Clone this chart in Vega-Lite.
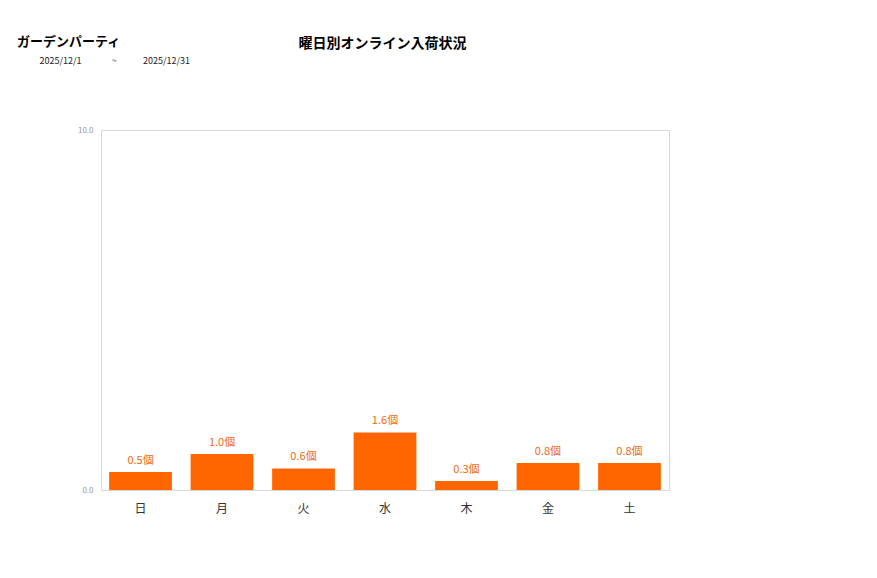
{
  "$schema": "https://vega.github.io/schema/vega-lite/v6.json",
  "autosize": "none",
  "width": 568,
  "height": 360,
  "padding": {"left": 101, "top": 130, "right": 208, "bottom": 88},
  "background": "white",
  "title": {
    "text": "ガーデンパーティ",
    "subtitle": "\u200b\u3000\u3000\u20022025/12/1\u00a0\u00a0\u00a0\u00a0\u00a0\u00a0\u00a0\u00a0\u00a0\u00a0\u00a0\u00a0\u00a0\u00a0\u00a0~\u00a0\u00a0\u00a0\u00a0\u00a0\u00a0\u00a0\u00a0\u00a0\u00a0\u00a0\u00a0\u00a02025/12/31",
    "anchor": "start",
    "frame": "group",
    "dx": -84,
    "offset": -30,
    "font": "Noto Sans CJK JP",
    "fontSize": 13,
    "fontWeight": "bold",
    "color": "#000000",
    "subtitleFont": "Noto Sans CJK JP",
    "subtitleFontSize": 9,
    "subtitleColor": "#222222",
    "subtitlePadding": 8
  },
  "config": {
    "view": {"stroke": "#d9d9d9", "strokeWidth": 1},
    "font": "Noto Sans CJK JP"
  },
  "data": {
    "values": [
      {"曜日": "日", "入荷": 0.5},
      {"曜日": "月", "入荷": 1.0},
      {"曜日": "火", "入荷": 0.6},
      {"曜日": "水", "入荷": 1.6},
      {"曜日": "木", "入荷": 0.25},
      {"曜日": "金", "入荷": 0.75},
      {"曜日": "土", "入荷": 0.75}
    ]
  },
  "transform": [
    {"calculate": "format(datum['入荷'], '.1f') + '個'", "as": "ラベル"}
  ],
  "encoding": {
    "x": {
      "field": "曜日",
      "type": "nominal",
      "sort": null,
      "scale": {"paddingInner": 0.23, "paddingOuter": 0.1},
      "axis": {
        "title": null,
        "labelAngle": 0,
        "labelFontSize": 12,
        "labelColor": "#333333",
        "labelPadding": 13,
        "ticks": false,
        "domain": false
      }
    },
    "y": {
      "field": "入荷",
      "type": "quantitative",
      "scale": {"domain": [0, 10], "nice": false},
      "axis": {
        "values": [0, 10],
        "format": ".1f",
        "grid": false,
        "ticks": false,
        "domain": false,
        "labelFontSize": 8,
        "labelColor": "#999999",
        "labelPadding": 8,
        "title": "曜日別オンライン入荷状況",
        "titleAngle": 0,
        "titleX": 281,
        "titleY": -87,
        "titleAlign": "center",
        "titleBaseline": "middle",
        "titleFontSize": 14,
        "titleFontWeight": "bold",
        "titleColor": "#000000"
      }
    }
  },
  "layer": [
    {"mark": {"type": "bar", "color": "#ff6600"}},
    {
      "mark": {"type": "text", "baseline": "bottom", "dy": -6, "fontSize": 11, "color": "#ee6a10"},
      "encoding": {"text": {"field": "ラベル"}}
    }
  ]
}
